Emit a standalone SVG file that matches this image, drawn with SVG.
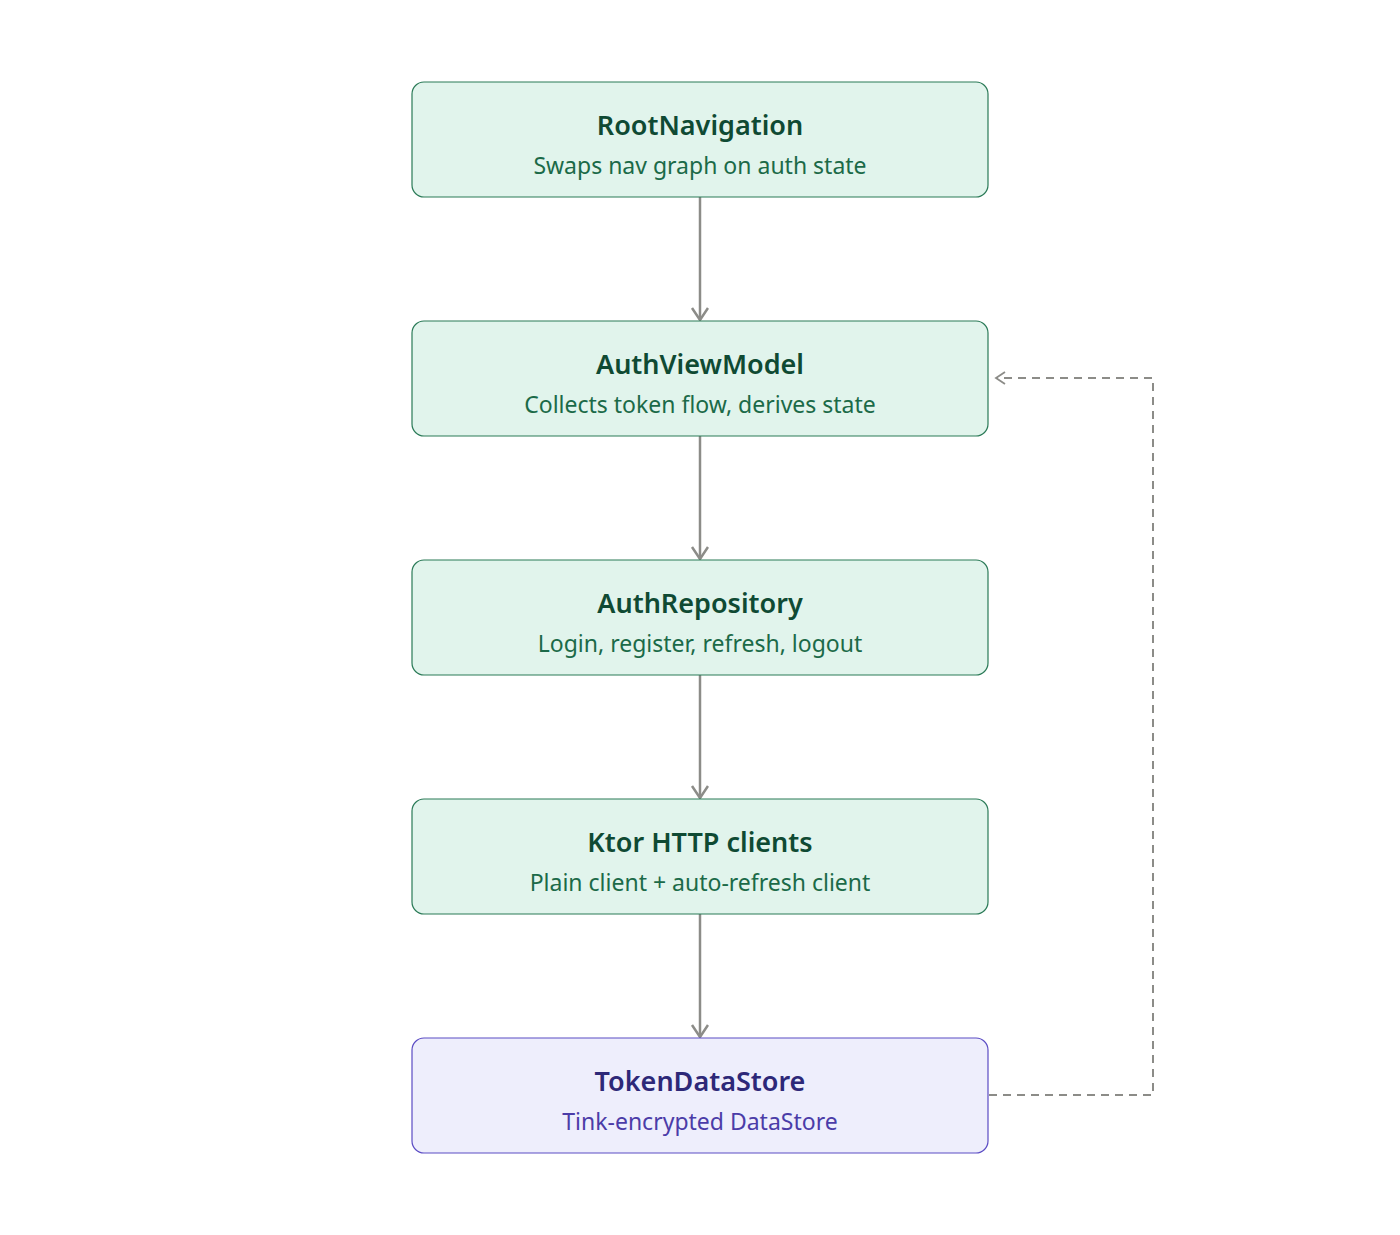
<svg xmlns="http://www.w3.org/2000/svg" width="1400" height="1235" viewBox="0 0 1400 1235">
<defs>
<style>
.g rect{fill:#e1f4ec;stroke:#2a7a57;stroke-width:1.2}
.p rect{fill:#eeeefc;stroke:#5b4cc4;stroke-width:1.2}
.t{font-family:"Noto Sans","Open Sans",sans-serif;font-size:27px;font-weight:600;text-anchor:middle}
.s{font-family:"Noto Sans","Open Sans",sans-serif;font-size:23px;text-anchor:middle}
.g .t{fill:#0f4a33}.g .s{fill:#1b6a48}
.p .t{fill:#2d2878}.p .s{fill:#4b3ca8}
.c{fill:none;stroke:#8c8c88;stroke-width:2.5}
.d{fill:none;stroke:#8c8c88;stroke-width:2;stroke-dasharray:8 6}
</style>
<marker id="a" markerWidth="20" markerHeight="20" refX="14" refY="9" orient="auto" markerUnits="userSpaceOnUse">
<path d="M2,1 L14,9 L2,17" fill="none" stroke="#8c8c88" stroke-width="2.5"/>
</marker>
<marker id="ad" markerWidth="16" markerHeight="16" refX="11" refY="8" orient="auto" markerUnits="userSpaceOnUse">
<path d="M2,2 L11,8 L2,14" fill="none" stroke="#8c8c88" stroke-width="1.8"/>
</marker>
</defs>
<rect width="1400" height="1235" fill="#fff"/>
<g id="connectors">
<line class="c" x1="700" y1="197" x2="700" y2="320" marker-end="url(#a)"/>
<line class="c" x1="700" y1="436" x2="700" y2="559" marker-end="url(#a)"/>
<line class="c" x1="700" y1="675" x2="700" y2="798" marker-end="url(#a)"/>
<line class="c" x1="700" y1="914" x2="700" y2="1037" marker-end="url(#a)"/>
<path class="d" d="M989,1095 H1153 V378 H996" marker-end="url(#ad)"/>
</g>
<g id="rootnav" class="g"><rect x="412" y="82" width="576" height="115" rx="12"/><text class="t" x="700" y="135">RootNavigation</text><text class="s" x="700" y="174">Swaps nav graph on auth state</text></g>
<g id="authvm" class="g"><rect x="412" y="321" width="576" height="115" rx="12"/><text class="t" x="700" y="374">AuthViewModel</text><text class="s" x="700" y="413">Collects token flow, derives state</text></g>
<g id="authrepo" class="g"><rect x="412" y="560" width="576" height="115" rx="12"/><text class="t" x="700" y="613">AuthRepository</text><text class="s" x="700" y="652">Login, register, refresh, logout</text></g>
<g id="ktor" class="g"><rect x="412" y="799" width="576" height="115" rx="12"/><text class="t" x="700" y="852">Ktor HTTP clients</text><text class="s" x="700" y="891">Plain client + auto-refresh client</text></g>
<g id="tokenstore" class="p"><rect x="412" y="1038" width="576" height="115" rx="12"/><text class="t" x="700" y="1091">TokenDataStore</text><text class="s" x="700" y="1130">Tink-encrypted DataStore</text></g>
</svg>
